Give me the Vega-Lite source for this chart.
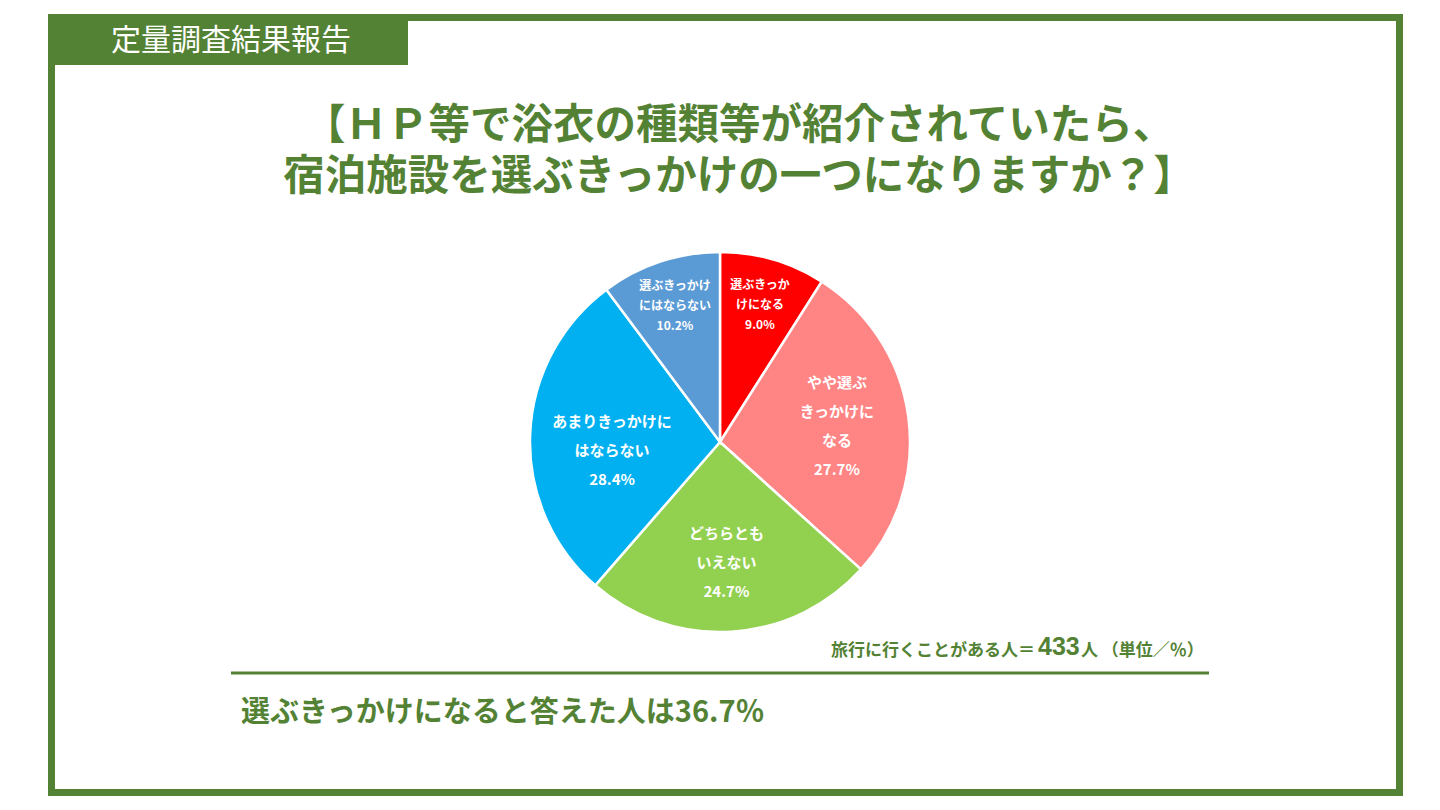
{
  "$schema": "https://vega.github.io/schema/vega-lite/v6.json",
  "width": 1440,
  "height": 810,
  "autosize": {"type": "fit", "contains": "padding"},
  "padding": 0,
  "background": "white",
  "config": {"view": {"stroke": null}, "font": "Noto Sans CJK JP"},
  "data": {
    "values": [
      {"idx": 1, "category": "選ぶきっかけになる", "label": "選ぶきっか\nけになる", "pct": 9.0},
      {"idx": 2, "category": "やや選ぶきっかけになる", "label": "やや選ぶ\nきっかけに\nなる", "pct": 27.7},
      {"idx": 3, "category": "どちらともいえない", "label": "どちらとも\nいえない", "pct": 24.7},
      {"idx": 4, "category": "あまりきっかけにはならない", "label": "あまりきっかけに\nはならない", "pct": 28.4},
      {"idx": 5, "category": "選ぶきっかけにはならない", "label": "選ぶきっかけ\nにはならない", "pct": 10.2}
    ]
  },
  "layer": [
    {
      "data": {"values": [{}]},
      "mark": {"type": "rect", "x": 51.5, "x2": 1399.5, "y": 17.5, "y2": 792.5, "filled": false, "stroke": "#548235", "strokeWidth": 7},
      "encoding": {}
    },
    {
      "data": {"values": [{}]},
      "mark": {"type": "rect", "x": 48, "x2": 408, "y": 14, "y2": 65, "fill": "#548235"},
      "encoding": {}
    },
    {
      "data": {"values": [{}]},
      "mark": {"type": "text", "x": 231, "y": 41, "text": "定量調査結果報告", "fontSize": 30, "fontWeight": "normal", "fill": "white", "align": "center", "baseline": "middle"},
      "encoding": {}
    },
    {
      "data": {"values": [{}]},
      "mark": {"type": "text", "x": 739, "y": 127, "text": ["【ＨＰ等で浴衣の種類等が紹介されていたら、", "宿泊施設を選ぶきっかけの一つになりますか？】"], "lineHeight": 51, "fontSize": 41.5, "fontWeight": "bold", "fill": "#548235", "align": "center", "baseline": "middle"},
      "encoding": {}
    },
    {
      "mark": {"type": "arc", "x": 720, "y": 442, "outerRadius": 190, "stroke": "white", "strokeWidth": 2.5},
      "encoding": {
        "theta": {"field": "pct", "type": "quantitative", "stack": true},
        "color": {
          "field": "category",
          "type": "nominal",
          "scale": {
            "domain": ["選ぶきっかけになる", "やや選ぶきっかけになる", "どちらともいえない", "あまりきっかけにはならない", "選ぶきっかけにはならない"],
            "range": ["#FF0000", "#FF8585", "#92D050", "#00B0F0", "#5B9BD5"]
          },
          "legend": null
        },
        "order": {"field": "idx", "type": "quantitative"}
      }
    },
    {
      "transform": [
        {"stack": "pct", "groupby": [], "sort": [{"field": "idx", "order": "ascending"}], "as": ["p0", "p1"]},
        {"calculate": "(datum.p0 + datum.p1) / 2", "as": "mid"},
        {"calculate": "datum.label + '\\n' + format(datum.pct, '.1f') + '%'", "as": "txt"},
        {"filter": "datum.pct > 15 && length(split(datum.txt, '\\n')) == 4"}
      ],
      "mark": {"type": "text", "x": 720, "y": 442, "radius": 118, "dy": -43.5, "fontSize": 15, "fontWeight": "bold", "lineHeight": 29, "lineBreak": "\n", "fill": "white", "align": "center", "baseline": "middle"},
      "encoding": {
        "theta": {"field": "mid", "type": "quantitative", "scale": {"domain": [0, 100]}},
        "text": {"field": "txt"}
      }
    },
    {
      "transform": [
        {"stack": "pct", "groupby": [], "sort": [{"field": "idx", "order": "ascending"}], "as": ["p0", "p1"]},
        {"calculate": "(datum.p0 + datum.p1) / 2", "as": "mid"},
        {"calculate": "datum.label + '\\n' + format(datum.pct, '.1f') + '%'", "as": "txt"},
        {"filter": "datum.pct > 15 && length(split(datum.txt, '\\n')) == 3"}
      ],
      "mark": {"type": "text", "x": 720, "y": 442, "radius": 108, "dy": -16, "fontSize": 15, "fontWeight": "bold", "lineHeight": 29, "lineBreak": "\n", "fill": "white", "align": "center", "baseline": "middle"},
      "encoding": {
        "theta": {"field": "mid", "type": "quantitative", "scale": {"domain": [0, 100]}},
        "text": {"field": "txt"}
      }
    },
    {
      "transform": [
        {"stack": "pct", "groupby": [], "sort": [{"field": "idx", "order": "ascending"}], "as": ["p0", "p1"]},
        {"calculate": "(datum.p0 + datum.p1) / 2", "as": "mid"},
        {"calculate": "datum.label + '\\n' + format(datum.pct, '.1f') + '%'", "as": "txt"},
        {"filter": "datum.pct < 15"}
      ],
      "mark": {"type": "text", "x": 720, "y": 442, "radius": 143, "dy": -20, "fontSize": 12, "fontWeight": "bold", "lineHeight": 20, "lineBreak": "\n", "fill": "white", "align": "center", "baseline": "middle"},
      "encoding": {
        "theta": {"field": "mid", "type": "quantitative", "scale": {"domain": [0, 100]}},
        "text": {"field": "txt"}
      }
    },
    {
      "data": {"values": [{}]},
      "mark": {"type": "text", "x": 1035, "y": 651, "text": "旅行に行くことがある人＝", "fontSize": 17, "fontWeight": "bold", "fill": "#548235", "align": "right", "baseline": "middle"},
      "encoding": {}
    },
    {
      "data": {"values": [{}]},
      "mark": {"type": "text", "x": 1038, "y": 655, "text": "433", "font": "Liberation Sans", "fontSize": 25, "fontWeight": "bold", "fill": "#548235", "align": "left", "baseline": "alphabetic"},
      "encoding": {}
    },
    {
      "data": {"values": [{}]},
      "mark": {"type": "text", "x": 1081, "y": 651, "text": "人 （単位／％）", "fontSize": 17, "fontWeight": "bold", "fill": "#548235", "align": "left", "baseline": "middle"},
      "encoding": {}
    },
    {
      "data": {"values": [{}]},
      "mark": {"type": "rect", "x": 231, "x2": 1209, "y": 671.5, "y2": 674.5, "fill": "#548235"},
      "encoding": {}
    },
    {
      "data": {"values": [{}]},
      "mark": {"type": "text", "x": 241, "y": 713, "text": "選ぶきっかけになると答えた人は36.7％", "fontSize": 29, "fontWeight": "bold", "fill": "#548235", "align": "left", "baseline": "middle"},
      "encoding": {}
    }
  ]
}
